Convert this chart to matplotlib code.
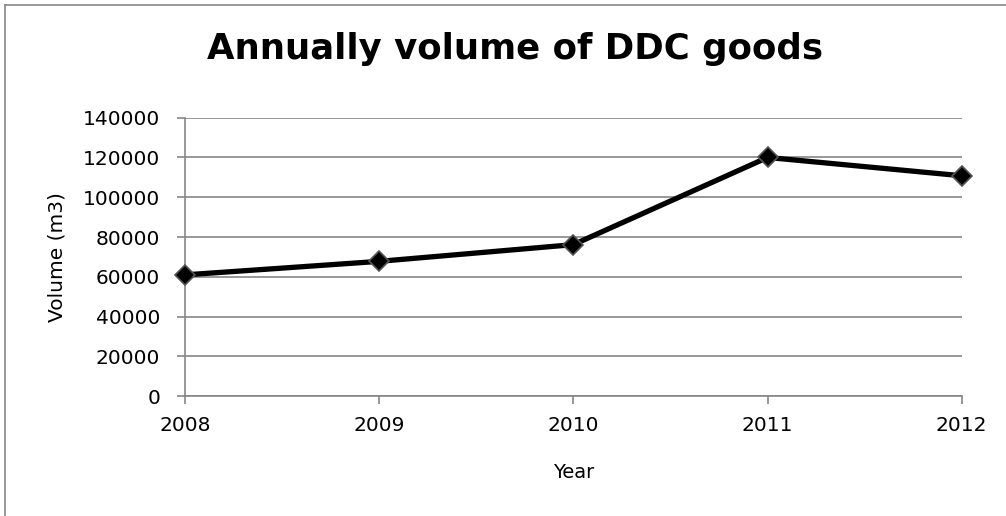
import matplotlib.pyplot as plt
from matplotlib.lines import Line2D

# data
years = [2008, 2009, 2010, 2011, 2012]
volume = [61000, 67800, 76200, 120000, 110800]
y_ticks = [0, 20000, 40000, 60000, 80000, 100000, 120000, 140000]

grid_col = '#868686'

fig = plt.figure(figsize=(10.06, 5.16), dpi=100)
ax = fig.add_axes([0.1839, 0.232, 0.956 - 0.1839, 0.772 - 0.232])

ax.plot(years, volume, color='black', lw=3.8, marker='D', markersize=10,
        markerfacecolor='black', markeredgecolor='#555555', markeredgewidth=1.2,
        zorder=3, clip_on=False)

ax.set_xlim(2008, 2012)
ax.set_ylim(0, 140000)
ax.set_xticks(years)
ax.set_yticks(y_ticks)
ax.set_xticklabels([str(y) for y in years])
ax.set_yticklabels([str(v) for v in y_ticks])

ax.yaxis.grid(True, color=grid_col, lw=1.2)
ax.set_axisbelow(True)
for s in ['top', 'right']:
    ax.spines[s].set_visible(False)
for s in ['left', 'bottom']:
    ax.spines[s].set_color(grid_col)
    ax.spines[s].set_linewidth(1.2)

ax.tick_params(axis='y', length=6, color=grid_col, width=1.2, pad=12, labelsize=14.5)
ax.tick_params(axis='x', length=6, color=grid_col, width=1.2, pad=8, labelsize=14.5)

ax.set_xlabel('Year', fontsize=14, labelpad=20)
ax.set_ylabel('Volume (m3)', fontsize=14.5, labelpad=12)
fig.text(0.512, 0.905, 'Annually volume of DDC goods', fontsize=25.6,
         fontweight='bold', ha='center', va='center')

# chart frame (only top and left edges are visible in the original)
fig.add_artist(Line2D([0.005, 0.005], [0, 0.99], color='#888888', lw=1.2))
fig.add_artist(Line2D([0.005, 1.0], [0.99, 0.99], color='#888888', lw=1.2))

fig.savefig('out.png', dpi=100)
